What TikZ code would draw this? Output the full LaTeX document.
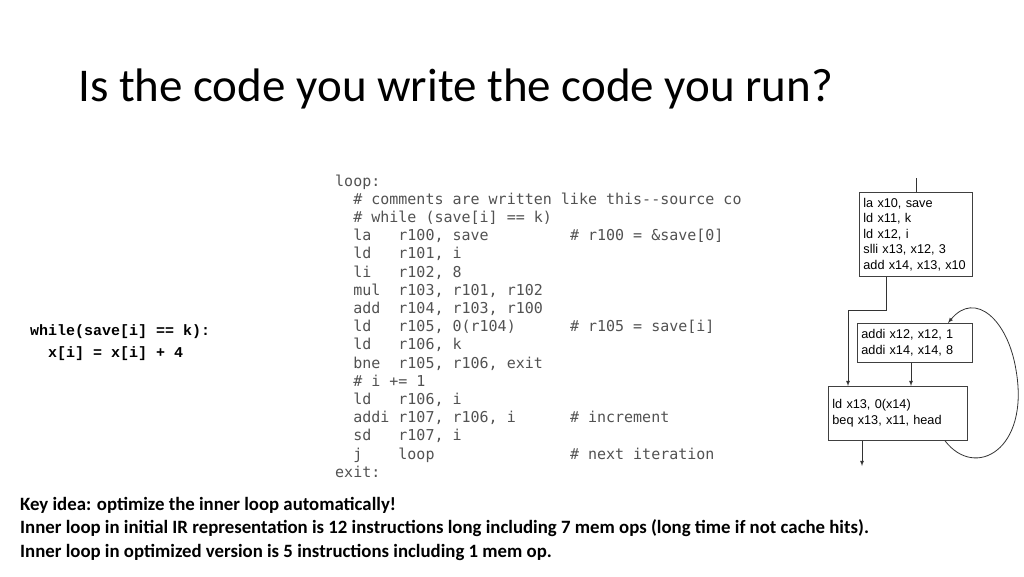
\documentclass[tikz,border=0pt]{standalone}
\usepackage{fontspec}
\setmainfont{Carlito}[BoldFont={Carlito Bold}]
\newfontfamily\carbold{Carlito Bold}
\newfontfamily\codef{DejaVu Sans Mono}
\newfontfamily\courf{Liberation Mono}
\newfontfamily\arialf{Liberation Sans}
\begin{document}
\begin{tikzpicture}[x=1pt,y=-1pt,
  cl/.style={anchor=base west,inner sep=0pt,font=\codef\fontsize{15}{15}\selectfont,text=black!68},
  kl/.style={anchor=base west,inner sep=0pt,font=\carbold\fontsize{18.8}{18.8}\selectfont},
  bx/.style={draw=black!75,line width=0.8pt,align=left,font=\arialf\fontsize{12.7}{15.5}\selectfont,inner xsep=4pt,inner ysep=5pt},
  ar/.style={-latex,line width=0.8pt,draw=black!80}]
\useasboundingbox (0,0) rectangle (1024,576);
\node[anchor=base west,inner sep=0pt,font=\fontsize{47}{47}\selectfont] (title) at (78,101) {Is the code you write the code you run?};
\node[anchor=base west,inner sep=0pt,font=\courf\bfseries\fontsize{15}{15}\selectfont] (w1) at (30,335) {while(save[i]~==~k):};
\node[anchor=base west,inner sep=0pt,font=\courf\bfseries\fontsize{15}{15}\selectfont] (w2) at (30,357) {~~x[i]~=~x[i]~+~4};
\foreach \t [count=\i from 0] in {
loop:,
~~,
~~\#~while~(save[i]~==~k),
~~la~~~r100{,}~save~~~~~~~~~\#~r100~=~\&save[0],
~~ld~~~r101{,}~i,
~~li~~~r102{,}~8,
~~mul~~r103{,}~r101{,}~r102,
~~add~~r104{,}~r103{,}~r100,
~~ld~~~r105{,}~0(r104)~~~~~~\#~r105~=~save[i],
~~ld~~~r106{,}~k,
~~bne~~r105{,}~r106{,}~exit,
~~\#~i~+=~1,
~~ld~~~r106{,}~i,
~~addi~r107{,}~r106{,}~i~~~~~~\#~increment,
~~sd~~~r107{,}~i,
~~j~~~~loop~~~~~~~~~~~~~~~\#~next~iteration,
exit:}{
  \node[cl] (c\i) at (335,{186+18.2*\i}) {\t};
}
\begin{scope}
\clip (330,185) rectangle (740,210);
\node[cl] (cm) at (335,204.2) {~~\#~comments~are~written~like~this-{}-source~code};
\end{scope}
\node[bx,text width=105pt,minimum height=84pt,anchor=north west] (b1) at (859,192) {la x10, save\\ld x11, k\\ld x12, i\\slli x13, x12, 3\\add x14, x13, x10};
\node[bx,text width=107pt,minimum height=39pt,anchor=north west] (b2) at (857,323) {addi x12, x12, 1\\addi x14, x14, 8};
\node[bx,text width=131pt,minimum height=54pt,anchor=north west] (b3) at (828,386) {ld x13, 0(x14)\\beq x13, x11, head};
\coordinate (top) at (916,178);
\coordinate (bend1) at (886,310);
\coordinate (bend2) at (848,310);
\coordinate (out) at (862,466);
\draw[line width=0.8pt,black!80] (top) -- (b1.north -| top);
\draw[ar] (b1.south -| bend1) -- (bend1) -- (bend2) -- (b3.north -| bend2);
\draw[ar] (b2.south -| 911,0) -- (b3.north -| 911,0);
\draw[ar] (b3.south -| out) -- (out);
\draw[ar] (b3.south -| 945,0) .. controls (975,480) and (1030,450) .. (1016,370) .. controls (1008,320) and (975,290) .. (b2.north -| 948,0);
\node[kl] (k1) at (20,510) {Key idea: optimize the inner loop automatically!};
\node[kl] (k2) at (20,533.5) {Inner loop in initial IR representation is 12 instructions long including 7 mem ops (long time if not cache hits).};
\node[kl] (k3) at (20,557) {Inner loop in optimized version is 5 instructions including 1 mem op.};
\end{tikzpicture}
\end{document}
